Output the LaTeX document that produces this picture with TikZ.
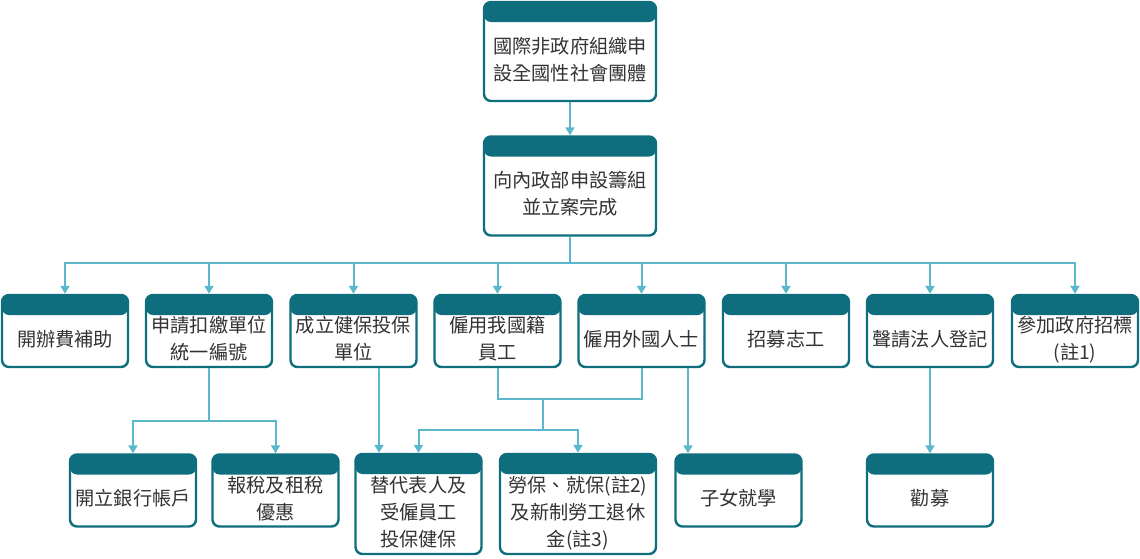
\documentclass[tikz,border=0pt]{standalone}
\usepackage{fontspec}
\setmainfont{Noto Sans CJK TC}
\usepackage{xcolor}
\definecolor{hdr}{HTML}{0F6E7D}
\definecolor{lien}{HTML}{5BB8CC}
\definecolor{txt}{HTML}{333333}
\usepackage{tikz}
\usetikzlibrary{arrows.meta,positioning}
\newcommand{\crd}[1]{\raisebox{-10pt}[\height][\depth]{\begin{tabular}{@{}c@{}}#1\end{tabular}}}
\tikzset{
  card/.style={rectangle, draw=hdr, line width=2.4pt, rounded corners=7pt, fill=white, text=txt, inner sep=0pt,
    minimum width=126pt, minimum height=72pt, font=\fontsize{19.2}{27}\selectfont,
    path picture={\fill[hdr] (path picture bounding box.north west) rectangle ([yshift=-20pt]path picture bounding box.north east);}
  },
  cardtall/.style={card, minimum height=100pt},
  cardtop/.style={card, minimum width=172pt, minimum height=99pt},
  cardwide/.style={card, minimum width=156pt, minimum height=100pt},
  line/.style={draw=lien, line width=2pt},
  arr/.style={line, -{Triangle[width=9pt,length=8pt]}},
}
\begin{document}
\begin{tikzpicture}[x=1pt, y=-1pt]
  \useasboundingbox (0,0) rectangle (1140,558);
  %top
  \node[cardtop] (ngo) at (570,51.5) {\crd{國際非政府組織申\\設全國性社會團體}};
  \node[cardtop] (moi) at (570,186) {\crd{向內政部申設籌組\\並立案完成}};

  %second row
  \node[card] (kaiban) at (65,331) {\crd{開辦費補助}};
  \node[card] (koujiao) at (209,331) {\crd{申請扣繳單位\\統一編號}};
  \node[card] (jianbao) at (353.5,331) {\crd{成立健保投保\\單位}};
  \node[card] (benguo) at (497.5,331) {\crd{僱用我國籍\\員工}};
  \node[card] (waiguo) at (641.5,331) {\crd{僱用外國人士}};
  \node[card] (zhigong) at (786,331) {\crd{招募志工}};
  \node[card] (faren) at (930,331) {\crd{聲請法人登記}};
  \node[card] (zhaobiao) at (1075,331) {\crd{參加政府招標\\(註1)}};

  %third row
  \node[card] (yinhang) at (133,490.5) {\crd{開立銀行帳戶}};
  \node[card] (baoshui) at (275.5,490.5) {\crd{報稅及租稅\\優惠}};
  \node[cardtall] (tibao) at (418.5,504) {\crd{替代表人及\\受僱員工\\投保健保}};
  \node[cardwide] (laobao) at (578,504) {\crd{勞保、就保(註2)\\及新制勞工退休\\金(註3)}};
  \node[card] (jiuxue) at (738.5,490.5) {\crd{子女就學}};
  \node[card] (quanmu) at (930,490.5) {\crd{勸募}};

  \draw[arr] (ngo) -- (moi);
  %bus to second row
  \coordinate (bus) at (570,263);
  \draw[line] (moi.south) -- (bus);
  \foreach \n in {kaiban,koujiao,jianbao,benguo,waiguo,zhigong,faren,zhaobiao}
    \draw[arr] (bus) -| (\n.north);

  %koujiao -> bank, tax
  \coordinate (kj) at (209,421);
  \draw[line] (koujiao.south) -- (kj);
  \draw[arr] (kj) -| (yinhang.north);
  \draw[arr] (kj) -| (baoshui.north);
  %jianbao -> tibao
  \draw[arr] ([xshift=25.5pt]jianbao.south) -- ([xshift=25.5pt]jianbao.south |- tibao.north);
  %employees -> tibao, laobao
  \coordinate (gu) at (543,399);
  \coordinate (gu2) at (543,430);
  \draw[line] (benguo.south) |- (gu) -| (waiguo.south);
  \draw[line] (gu) -- (gu2);
  \draw[arr] (gu2) -| (tibao.north);
  \draw[arr] (gu2) -| (laobao.north);
  %waiguo -> jiuxue
  \draw[arr] ([xshift=46.5pt]waiguo.south) -- ([xshift=46.5pt]waiguo.south |- jiuxue.north);
  %faren -> quanmu
  \draw[arr] (faren) -- (quanmu);
\end{tikzpicture}
\end{document}
